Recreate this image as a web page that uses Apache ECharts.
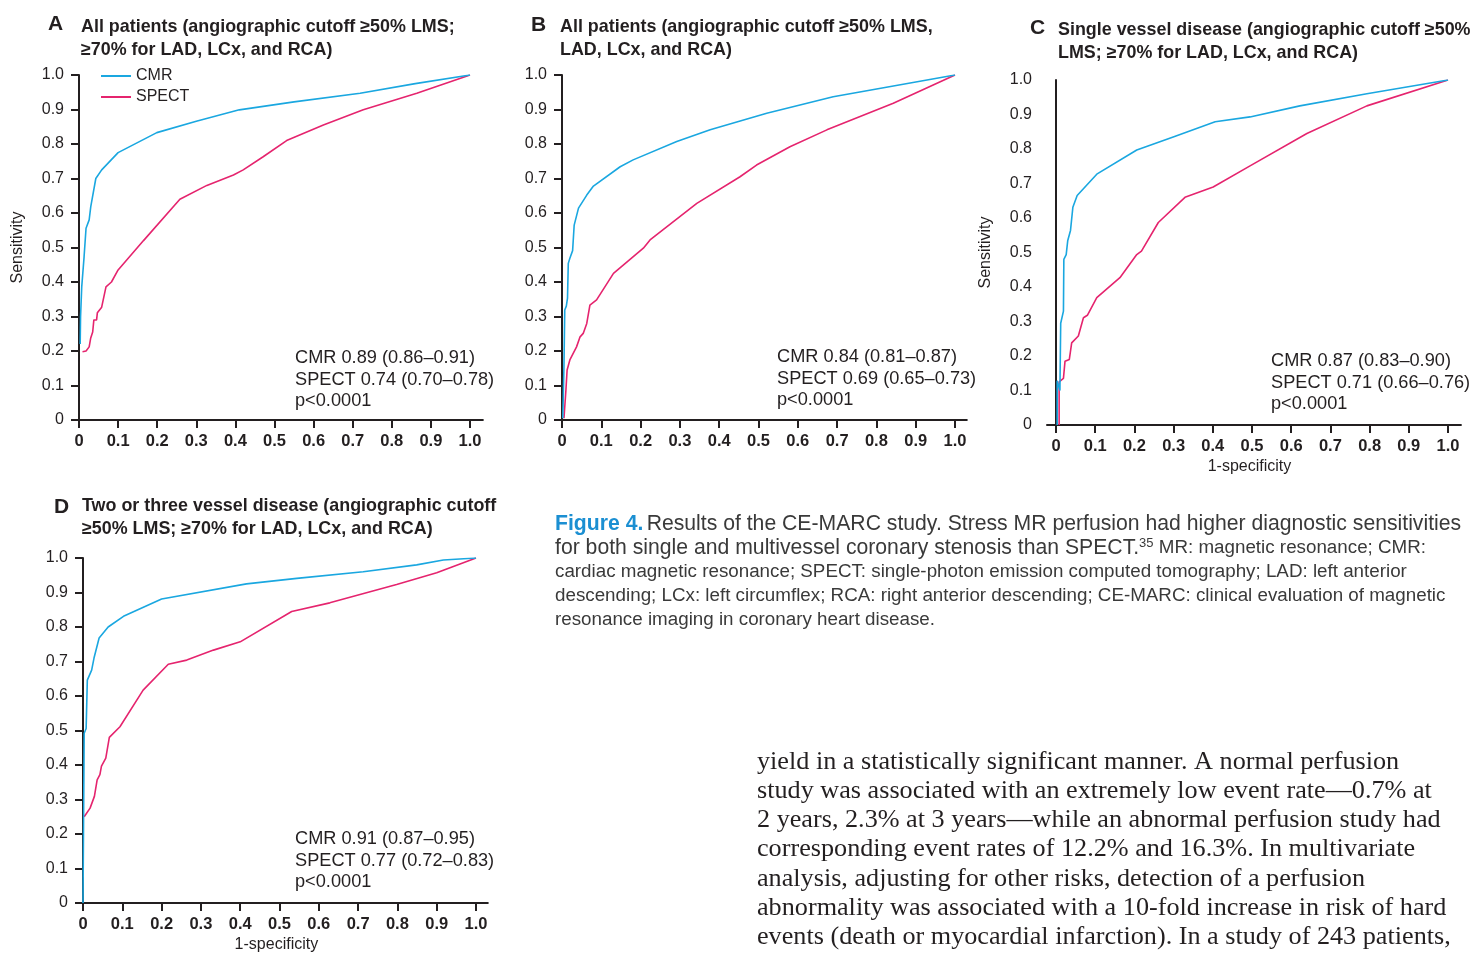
<!DOCTYPE html>
<html><head><meta charset="utf-8">
<script src="https://cdn.jsdelivr.net/npm/echarts@6/dist/echarts.min.js"></script>
<style>html,body{margin:0;padding:0;background:#fff}#c{width:1471px;height:954px}</style>
</head><body><div id="c"></div>
<script>
// ---- data ----
const tickValues = [0, 0.1, 0.2, 0.3, 0.4, 0.5, 0.6, 0.7, 0.8, 0.9, 1.0];
const tickLabels = ['0', '0.1', '0.2', '0.3', '0.4', '0.5', '0.6', '0.7', '0.8', '0.9', '1.0'];
const seriesNames = ['CMR', 'SPECT'];

// [1-specificity, sensitivity]
const aCmr = [[0.003,0.22],[0.004,0.30],[0.007,0.386],[0.013,0.473],[0.018,0.556],[0.026,0.58],[0.03,0.618],[0.043,0.70],[0.058,0.725],[0.10,0.775],[0.199,0.833],[0.30,0.866],[0.41,0.899],[0.55,0.922],[0.719,0.947],[0.86,0.975],[1.0,1.0]];
const aSpect = [[0.009,0.198],[0.018,0.20],[0.026,0.212],[0.03,0.238],[0.035,0.255],[0.038,0.29],[0.045,0.29],[0.047,0.311],[0.058,0.327],[0.069,0.386],[0.083,0.40],[0.10,0.435],[0.165,0.52],[0.258,0.64],[0.327,0.68],[0.395,0.71],[0.42,0.725],[0.471,0.763],[0.531,0.81],[0.625,0.855],[0.727,0.899],[0.864,0.947],[1.0,1.0]];

const bCmr = [[0.002,0.005],[0.005,0.155],[0.007,0.319],[0.011,0.33],[0.014,0.353],[0.016,0.454],[0.02,0.469],[0.027,0.491],[0.031,0.565],[0.042,0.614],[0.063,0.652],[0.08,0.678],[0.148,0.734],[0.181,0.754],[0.292,0.807],[0.377,0.841],[0.521,0.889],[0.69,0.937],[1.0,1.0]];
const bSpect = [[0.005,0.005],[0.01,0.087],[0.013,0.145],[0.02,0.174],[0.037,0.212],[0.046,0.241],[0.054,0.251],[0.063,0.28],[0.071,0.333],[0.088,0.348],[0.131,0.425],[0.207,0.498],[0.224,0.522],[0.343,0.628],[0.453,0.705],[0.495,0.739],[0.58,0.792],[0.674,0.841],[0.843,0.918],[1.0,1.0]];

const cCmr = [[0.003,0.0],[0.003,0.128],[0.01,0.10],[0.012,0.295],[0.019,0.33],[0.02,0.48],[0.026,0.494],[0.03,0.535],[0.037,0.564],[0.043,0.631],[0.054,0.665],[0.104,0.727],[0.206,0.797],[0.299,0.835],[0.406,0.879],[0.495,0.893],[0.622,0.925],[0.793,0.96],[1.0,1.0]];
const cSpect = [[0.008,0.0],[0.008,0.125],[0.019,0.135],[0.023,0.185],[0.034,0.19],[0.04,0.238],[0.057,0.258],[0.07,0.311],[0.08,0.318],[0.104,0.369],[0.163,0.427],[0.206,0.494],[0.218,0.504],[0.261,0.587],[0.329,0.66],[0.401,0.69],[0.495,0.751],[0.64,0.845],[0.793,0.925],[1.0,1.0]];

const dCmr = [[0.0,0.0],[0.003,0.492],[0.008,0.506],[0.011,0.646],[0.022,0.675],[0.028,0.71],[0.041,0.768],[0.064,0.80],[0.103,0.831],[0.2,0.881],[0.416,0.925],[0.544,0.941],[0.713,0.96],[0.849,0.98],[0.917,0.994],[1.0,1.0]];
const dSpect = [[0.003,0.25],[0.018,0.275],[0.029,0.309],[0.036,0.357],[0.043,0.372],[0.047,0.397],[0.058,0.42],[0.067,0.48],[0.094,0.511],[0.153,0.617],[0.217,0.692],[0.264,0.704],[0.332,0.733],[0.40,0.757],[0.531,0.845],[0.628,0.87],[0.798,0.923],[0.90,0.957],[1.0,1.0]];

const panelLetters = ['A', 'B', 'C', 'D'];
const panelTitles = [
  ['All patients (angiographic cutoff \u226550% LMS;', '\u226570% for LAD, LCx, and RCA)'],
  ['All patients (angiographic cutoff \u226550% LMS,', 'LAD, LCx, and RCA)'],
  ['Single vessel disease (angiographic cutoff \u226550%', 'LMS; \u226570% for LAD, LCx, and RCA)'],
  ['Two or three vessel disease (angiographic cutoff', '\u226550% LMS; \u226570% for LAD, LCx, and RCA)']
];
const panelStats = [
  ['CMR 0.89 (0.86\u20130.91)', 'SPECT 0.74 (0.70\u20130.78)', 'p<0.0001'],
  ['CMR 0.84 (0.81\u20130.87)', 'SPECT 0.69 (0.65\u20130.73)', 'p<0.0001'],
  ['CMR 0.87 (0.83\u20130.90)', 'SPECT 0.71 (0.66\u20130.76)', 'p<0.0001'],
  ['CMR 0.91 (0.87\u20130.95)', 'SPECT 0.77 (0.72\u20130.83)', 'p<0.0001']
];
const panelData = [[aCmr, aSpect], [bCmr, bSpect], [cCmr, cSpect], [dCmr, dSpect]];

const captionLines = [
  'Results of the CE-MARC study. Stress MR perfusion had higher diagnostic sensitivities',
  'for both single and multivessel coronary stenosis than SPECT.',
  'cardiac magnetic resonance; SPECT: single-photon emission computed tomography; LAD: left anterior',
  'descending; LCx: left circumflex; RCA: right anterior descending; CE-MARC: clinical evaluation of magnetic',
  'resonance imaging in coronary heart disease.'
];
const captionTail = ' MR: magnetic resonance; CMR:';
const bodyLines = [
  'yield in a statistically significant manner. A normal perfusion',
  'study was associated with an extremely low event rate\u20140.7% at',
  '2 years, 2.3% at 3 years\u2014while an abnormal perfusion study had',
  'corresponding event rates of 12.2% and 16.3%. In multivariate',
  'analysis, adjusting for other risks, detection of a perfusion',
  'abnormality was associated with a 10-fold increase in risk of hard',
  'events (death or myocardial infarction). In a study of 243 patients,'
];

// ---- layout / style ----
const INK = '#231f20';
const CAP = '#3a3a3a';
const COLORS = ['#1aa7e0', '#e5246e'];
const SANS = '"Liberation Sans", Arial, Helvetica, sans-serif';
const SERIF = '"Liberation Serif", "Times New Roman", serif';
const layouts = [
  {x0: 79, y0: 420, sx: 391, sy: 345, xMin: 0, xMax: 1.033, yName: 'Sensitivity', xName: '', yTicks: true, lx: 48, ly: 24, tx: 81, ty: 27, stx: 295, sty: 358},
  {x0: 562, y0: 420, sx: 393, sy: 345, xMin: 0, xMax: 1.03, yName: '', xName: '', yTicks: true, lx: 531, ly: 25, tx: 560, ty: 27, stx: 777, sty: 357},
  {x0: 1056, y0: 425, sx: 392, sy: 345, xMin: -0.023, xMax: 1.033, yName: 'Sensitivity', xName: '1-specificity', xPad: [0, 9, 0, 0], yTicks: false, lx: 1030, ly: 28, tx: 1058, ty: 30, stx: 1271, sty: 361},
  {x0: 83, y0: 903, sx: 393, sy: 345, xMin: 0, xMax: 1.03, yName: '', xName: '1-specificity', xPad: [0, 18, 0, 0], yTicks: true, lx: 54, ly: 507, tx: 82, ty: 506, stx: 295, sty: 839}
];

const fmt = v => { const i = tickValues.findIndex(t => Math.abs(t - v) < 1e-6); return i >= 0 ? tickLabels[i] : ''; };

const grids = [], xAxes = [], yAxes = [], series = [], graphics = [];
layouts.forEach((L, i) => {
  grids.push({left: L.x0 + L.sx * L.xMin, top: L.y0 - L.sy, width: L.sx * (L.xMax - L.xMin), height: L.sy, containLabel: false});
  xAxes.push({
    type: 'value', gridIndex: i, min: L.xMin, max: L.xMax,
    name: L.xName, nameLocation: 'middle', nameGap: 34,
    nameTextStyle: {fontFamily: SANS, fontSize: 16, color: INK, padding: L.xPad || 0},
    axisLine: {show: true, onZero: true, lineStyle: {color: INK, width: 2}},
    axisTick: {show: true, length: 8, customValues: tickValues, lineStyle: {color: INK, width: 2}},
    axisLabel: {customValues: tickValues, formatter: fmt, fontFamily: SANS, fontSize: 16.5, fontWeight: 'bold', color: INK, margin: 13},
    splitLine: {show: false}
  });
  yAxes.push({
    type: 'value', gridIndex: i, min: 0, max: 1, interval: 0.1,
    name: L.yName, nameLocation: 'middle', nameGap: 53, nameRotate: 90,
    nameTextStyle: {fontFamily: SANS, fontSize: 16, color: INK},
    axisLine: {show: true, onZero: true, lineStyle: {color: INK, width: 2}},
    axisTick: {show: L.yTicks, length: 8, lineStyle: {color: INK, width: 2}},
    axisLabel: {formatter: fmt, fontFamily: SANS, fontSize: 16, color: INK, margin: 15},
    splitLine: {show: false}
  });
  panelData[i].forEach((d, k) => {
    series.push({
      type: 'line', name: seriesNames[k], xAxisIndex: i, yAxisIndex: i, data: d,
      symbol: 'none', showSymbol: false, smooth: false,
      lineStyle: {color: COLORS[k], width: 1.6}, itemStyle: {color: COLORS[k]},
      z: 3 - k, animation: false
    });
  });
  graphics.push({type: 'text', x: L.lx, y: L.ly, style: {text: panelLetters[i], fontFamily: SANS, fontSize: 21, fontWeight: 'bold', fill: INK, verticalAlign: 'middle'}});
  panelTitles[i].forEach((t, j) => {
    graphics.push({type: 'text', x: L.tx, y: L.ty + j * 23, style: {text: t, fontFamily: SANS, fontSize: 17.9, fontWeight: 'bold', fill: INK, verticalAlign: 'middle'}});
  });
  panelStats[i].forEach((t, j) => {
    graphics.push({type: 'text', x: L.stx, y: L.sty + j * 21.5, style: {text: t, fontFamily: SANS, fontSize: 18.2, fill: INK, verticalAlign: 'middle'}});
  });
});

// caption
graphics.push({type: 'text', x: 555, y: 524, style: {
  text: '{b|Figure 4.} {n|' + captionLines[0] + '}',
  verticalAlign: 'middle',
  rich: {b: {fontFamily: SANS, fontSize: 21.2, fontWeight: 'bold', fill: '#1b8fd2'}, n: {fontFamily: SANS, fontSize: 21.2, fill: CAP}}
}});
graphics.push({type: 'text', x: 555, y: 548, style: {
  text: '{n|' + captionLines[1] + '}{sup|35}{s|' + captionTail + '}',
  verticalAlign: 'middle',
  rich: {n: {fontFamily: SANS, fontSize: 21.2, fill: CAP}, sup: {fontFamily: SANS, fontSize: 13, fill: CAP, verticalAlign: 'top', padding: [0, 0, 9, 0]}, s: {fontFamily: SANS, fontSize: 18.8, fill: CAP}}
}});
for (let j = 2; j < captionLines.length; j++) {
  graphics.push({type: 'text', x: 555, y: 524 + j * 24, style: {text: captionLines[j], fontFamily: SANS, fontSize: 18.8, fill: CAP, verticalAlign: 'middle'}});
}
// body text
bodyLines.forEach((t, j) => {
  graphics.push({type: 'text', x: 757, y: 762 + j * 29.2, style: {text: t, fontFamily: SERIF, fontSize: 26.2, fill: INK, verticalAlign: 'middle'}});
});

const chart = echarts.init(document.getElementById('c'), null, {renderer: 'canvas', width: 1471, height: 954});
chart.setOption({
  animation: false,
  backgroundColor: '#ffffff',
  grid: grids, xAxis: xAxes, yAxis: yAxes, series: series,
  legend: {
    data: seriesNames, orient: 'vertical', left: 101, top: 68, padding: 0,
    icon: 'rect', itemWidth: 30, itemHeight: 2, itemGap: 5,
    textStyle: {fontFamily: SANS, fontSize: 16, color: INK}, selectedMode: false
  },
  graphic: graphics
});
</script></body></html>
